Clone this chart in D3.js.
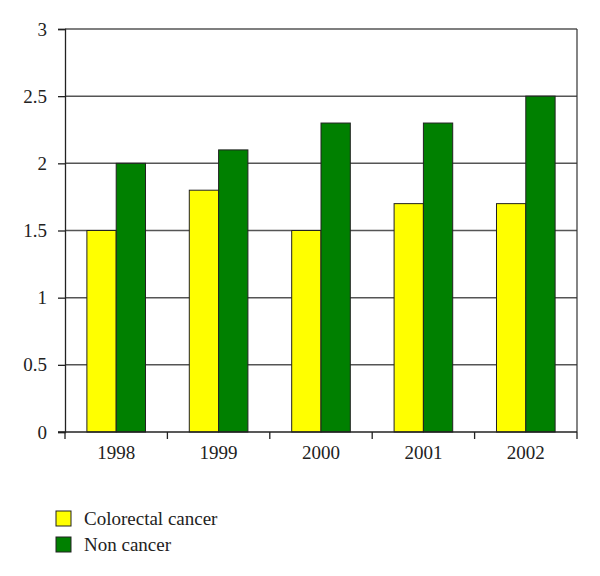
<!DOCTYPE html>
<html><head><meta charset="utf-8">
<script src="https://cdn.jsdelivr.net/npm/d3@7"></script>
<style>body{margin:0;background:#fff}</style>
</head><body>
<script>
const years = ["1998","1999","2000","2001","2002"];
const colorectal = [1.5, 1.8, 1.5, 1.7, 1.7];
const nonCancer = [2.0, 2.1, 2.3, 2.3, 2.5];
const seriesNames = ["Colorectal cancer","Non cancer"];
const seriesColors = ["#ffff00","#008000"];
const yTicks = [0,0.5,1,1.5,2,2.5,3];

(function(){
const W=600,H=576;
const mLeft=65,mRight=577,mTop=29,mBottom=432;
const FONT="Liberation Serif";
const svg=d3.select("body").append("svg").attr("width",W).attr("height",H)
 .style("font-family",FONT);

const x0=d3.scaleBand().domain(years).range([mLeft,mRight]).padding(0);
const x1=d3.scaleBand().domain([0,1]).range([0,x0.bandwidth()]).paddingOuter(0.747).paddingInner(0);
const y=d3.scaleLinear().domain([0,3]).range([mBottom,mTop]);

svg.append("g").selectAll("line").data(yTicks.filter(d=>d>0)).join("line")
 .attr("x1",mLeft).attr("x2",mRight).attr("y1",d=>y(d)).attr("y2",d=>y(d))
 .attr("stroke","#555").attr("stroke-width",1.5);
svg.append("line").attr("x1",mRight).attr("x2",mRight).attr("y1",mTop).attr("y2",mBottom)
 .attr("stroke","#333").attr("stroke-width",1.2);

const data=years.map((yr,i)=>({yr,vals:[colorectal[i],nonCancer[i]]}));
const g=svg.append("g").selectAll("g").data(data).join("g").attr("transform",d=>`translate(${x0(d.yr)},0)`);
g.selectAll("rect").data(d=>d.vals.map((v,k)=>({v,k}))).join("rect")
 .attr("x",d=>x1(d.k)).attr("width",x1.bandwidth())
 .attr("y",d=>y(d.v)).attr("height",d=>y(0)-y(d.v))
 .attr("fill",d=>seriesColors[d.k]).attr("stroke","#222").attr("stroke-width",1);

const ya=svg.append("g").attr("transform",`translate(${mLeft},0)`)
 .call(d3.axisLeft(y).tickValues(yTicks).tickSize(7).tickPadding(11).tickFormat(d3.format("")));
ya.attr("font-family",null).attr("font-size",null);
ya.selectAll("text").style("font-family",FONT).style("font-size","19px").attr("fill","#222");
ya.selectAll("line,path").attr("stroke","#222").attr("stroke-width",1.3);

const xa=svg.append("g").attr("transform",`translate(0,${mBottom})`)
 .call(d3.axisBottom(x0).tickSize(0).tickPadding(14));
xa.attr("font-family",null).attr("font-size",null);
xa.selectAll("text").style("font-family",FONT).style("font-size","19px").attr("fill","#222");
xa.select(".domain").remove();
svg.append("line").attr("x1",mLeft-7).attr("x2",mRight).attr("y1",mBottom).attr("y2",mBottom).attr("stroke","#222").attr("stroke-width",1.3);
svg.append("g").selectAll("line").data(years.map((d,i)=>i).concat([years.length])).join("line")
 .attr("x1",i=>i<years.length?x0(years[i]):mRight).attr("x2",i=>i<years.length?x0(years[i]):mRight)
 .attr("y1",mBottom).attr("y2",mBottom+7).attr("stroke","#222").attr("stroke-width",1.3);

const lg=svg.append("g").selectAll("g").data(seriesNames).join("g")
 .attr("transform",(d,i)=>`translate(56,${511+i*26})`);
lg.append("rect").attr("width",15).attr("height",15).attr("fill",(d,i)=>seriesColors[i]).attr("stroke","#222").attr("stroke-width",1);
lg.append("text").attr("x",28).attr("y",14).text(d=>d).style("font-family",FONT).style("font-size","19px").attr("fill","#222");
})();
</script>
</body></html>
